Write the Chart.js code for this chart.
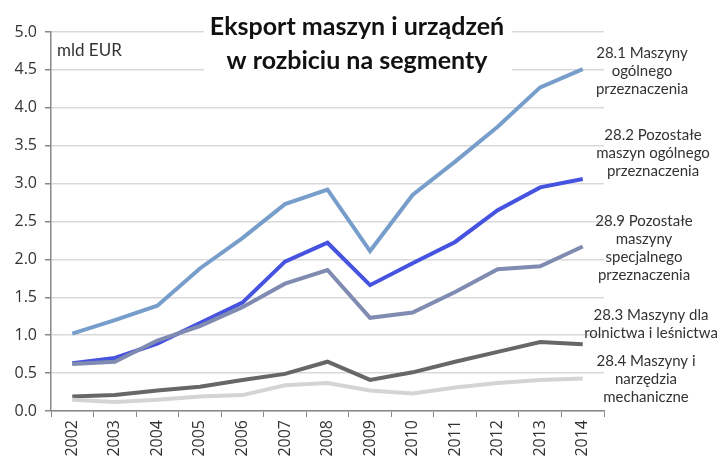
<!DOCTYPE html>
<html><head><meta charset="utf-8">
<script src="https://cdn.jsdelivr.net/npm/chart.js@4"></script>
<style>html,body{margin:0;padding:0;background:#fff}#wrap{width:718px;height:457px}</style>
</head><body><div id="wrap"><canvas id="c" width="718" height="457"></canvas></div>
<script>
const years = ["2002","2003","2004","2005","2006","2007","2008","2009","2010","2011","2012","2013","2014"];
const s281 = [1.02,1.20,1.39,1.88,2.28,2.73,2.92,2.11,2.85,3.29,3.75,4.27,4.51];
const s282 = [0.63,0.70,0.89,1.16,1.43,1.97,2.22,1.66,1.95,2.23,2.65,2.95,3.06];
const s289 = [0.62,0.65,0.93,1.12,1.37,1.68,1.86,1.23,1.30,1.57,1.87,1.91,2.17];
const s283 = [0.19,0.21,0.27,0.32,0.41,0.49,0.65,0.41,0.51,0.65,0.78,0.91,0.88];
const s284 = [0.15,0.12,0.15,0.19,0.21,0.34,0.37,0.27,0.23,0.31,0.37,0.41,0.43];
const titleLines = ["Eksport maszyn i urządzeń","w rozbiciu na segmenty"];
const unitLabel = "mld EUR";
const seriesLabels = [
  ["28.1 Maszyny","ogólnego","przeznaczenia"],
  ["28.2 Pozostałe","maszyn ogólnego","przeznaczenia"],
  ["28.9 Pozostałe","maszyny","specjalnego","przeznaczenia"],
  ["28.3 Maszyny dla","rolnictwa i leśnictwa"],
  ["28.4 Maszyny i","narzędzia","mechaniczne"]
];
const labelPos = [[642,53],[653,135],[644,221],[651,315],[646,361]];

const overlay = {
  id:'overlay',
  afterDraw(chart){
    const ctx = chart.ctx;
    ctx.save();
    ctx.fillStyle='#fff';
    ctx.fillRect(204,0,308,80);
    ctx.fillStyle='#111';
    ctx.font='bold 25px Lato';
    ctx.textAlign='center';ctx.textBaseline='middle';
    ctx.fillText(titleLines[0],357,27);
    ctx.fillText(titleLines[1],357,61);
    ctx.font='17px Lato';
    ctx.fillStyle='#333';
    ctx.textAlign='left';
    ctx.fillText(unitLabel,57,51);
    ctx.font='15px Lato';
    ctx.textAlign='center';
    seriesLabels.forEach((lines,i)=>{
      lines.forEach((t,j)=>ctx.fillText(t,labelPos[i][0],labelPos[i][1]+j*18));
    });
    ctx.restore();
  }
};

const mk=(label,data,color)=>({label,data,borderColor:color,backgroundColor:color,borderWidth:4,pointRadius:0,tension:0,fill:false});
new Chart(document.getElementById('c'),{
  type:'line',
  data:{labels:years,datasets:[
    mk('28.4',s284,'#d4d4d4'),
    mk('28.3',s283,'#676767'),
    mk('28.9',s289,'#7f8bb0'),
    mk('28.2',s282,'#4553e0'),
    mk('28.1',s281,'#779ecb')
  ]},
  options:{
    responsive:false,animation:false,
    layout:{padding:{top:32,right:114,left:0,bottom:0}},
    plugins:{legend:{display:false},tooltip:{enabled:false}},
    scales:{
      x:{offset:true,
        grid:{offset:true,drawOnChartArea:false,drawTicks:true,tickLength:6,tickColor:'#888',color:'#888'},
        border:{color:'#888',width:1.5},
        ticks:{maxRotation:90,minRotation:90,color:'#333',font:{family:'Open Sans',size:16},padding:3},
        afterFit(s){s.height=46;}
      },
      y:{min:0,max:5,
        grid:{color:'#d9d9d9',lineWidth:1.5,tickLength:6,tickColor:'#888'},
        border:{color:'#888',width:1.5},
        ticks:{stepSize:0.5,color:'#333',font:{family:'Open Sans',size:16},padding:8,callback:v=>v.toFixed(1)},
        afterFit(s){s.width=51;}
      }
    }
  },
  plugins:[overlay]
});
</script></body></html>
